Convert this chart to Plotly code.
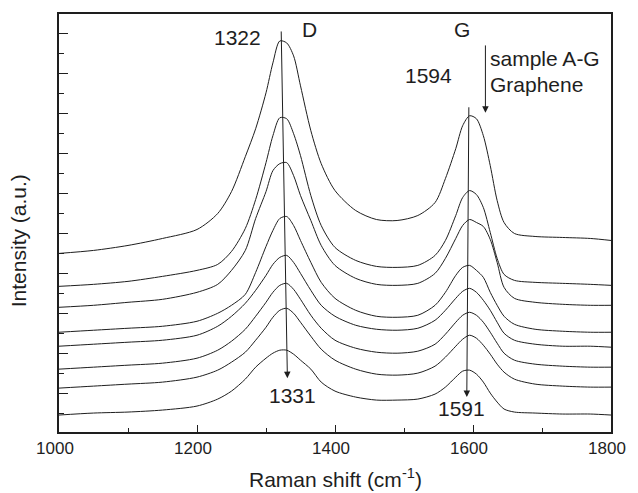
import plotly.graph_objects as go

raman_shift = [1000, 1050, 1100, 1150, 1200, 1230, 1250, 1270, 1285, 1300, 1310, 1320, 1330,
               1340, 1350, 1365, 1380, 1400, 1430, 1460, 1490, 1520, 1545, 1560, 1575, 1585,
               1595, 1605, 1615, 1625, 1635, 1645, 1660, 1690, 1730, 1770, 1800]

curve_1 = [160, 163, 168, 175, 184, 200, 222, 257, 285, 321, 351, 373, 371, 358, 328, 283, 250,
           223, 203, 194, 193, 198, 211, 235, 265, 288, 298, 295, 278, 248, 213, 191, 180, 177,
           176, 175, 173]
curve_2 = [127, 129, 132, 137, 143, 149, 162, 185, 214, 251, 278, 296, 295, 280, 258, 218, 188,
           166, 153, 147, 146, 148, 158, 173, 198, 216, 223, 219, 206, 181, 155, 139, 133, 131,
           130, 129, 128]
curve_3 = [106, 108, 111, 114, 121, 129, 143, 163, 195, 222, 243, 250, 251, 238, 218, 193, 168,
           148, 135, 129, 128, 130, 140, 155, 175, 188, 194, 191, 187, 174, 151, 126, 115, 111,
           109, 108, 108]
curve_4 = [81, 83, 85, 87, 92, 100, 108, 119, 141, 167, 183, 195, 197, 188, 173, 151, 131, 115,
           103, 97, 96, 98, 108, 121, 138, 146, 148, 143, 136, 121, 108, 97, 89, 84, 82, 81, 81]
curve_5 = [67, 69, 71, 73, 78, 87, 97, 110, 123, 138, 149, 156, 158, 151, 140, 123, 108, 97, 88,
           84, 83, 85, 93, 103, 115, 122, 125, 121, 113, 103, 91, 80, 73, 69, 67, 67, 66]
curve_6 = [44, 46, 48, 50, 55, 63, 72, 84, 97, 111, 121, 128, 130, 124, 114, 98, 85, 73, 65, 61,
           60, 62, 69, 79, 91, 98, 101, 98, 91, 81, 70, 60, 53, 49, 47, 46, 46]
curve_7 = [25, 27, 29, 31, 36, 43, 51, 61, 73, 86, 96, 103, 105, 100, 91, 77, 64, 53, 44, 39, 38,
           40, 47, 56, 67, 74, 78, 75, 68, 59, 49, 41, 34, 29, 27, 26, 26]
curve_8 = [-2, 0, 1, 3, 7, 14, 22, 34, 46, 55, 60, 63, 63, 59, 53, 44, 31, 22, 16, 13, 13, 14, 19,
           26, 36, 42, 43, 39, 31, 20, 11, 4, 1, 0, -1, -1, -2]

curves = [curve_1, curve_2, curve_3, curve_4, curve_5, curve_6, curve_7, curve_8]

x_ticks = [1000, 1200, 1400, 1600, 1800]

FONT = "Liberation Sans, Arial, sans-serif"
INK = "#1e1e1e"

fig = go.Figure()
for c in curves:
    fig.add_trace(go.Scatter(x=raman_shift, y=c, mode="lines",
                             line=dict(color=INK, width=1, shape="spline", smoothing=0.8),
                             showlegend=False, hoverinfo="skip"))

ann = []
txt = dict(font=dict(family=FONT, size=21, color=INK), showarrow=False)
ann.append(dict(x=1258, y=376, text="1322", **txt))
ann.append(dict(x=1363, y=384, text="D", **txt))
ann.append(dict(x=1584, y=384, text="G", **txt))
ann.append(dict(x=1535, y=338, text="1594", **txt))
ann.append(dict(x=1622, y=355, text="sample A-G", xanchor="left", **txt))
ann.append(dict(x=1622, y=329, text="Graphene", xanchor="left", **txt))
ann.append(dict(x=1338, y=18, text="1331", **txt))
ann.append(dict(x=1584, y=5, text="1591", **txt))

arr = dict(showarrow=True, arrowhead=2, arrowsize=1.3, arrowwidth=1, arrowcolor=INK,
           axref="x", ayref="y", text="")
ann.append(dict(x=1331, y=35, ax=1322, ay=384, **arr))
ann.append(dict(x=1591, y=16, ax=1594, ay=308, **arr))
ann.append(dict(x=1618, y=301, ax=1618, ay=370, **arr))

ann.append(dict(xref="paper", yref="paper", x=0.5, y=-0.11, yanchor="middle",
                text="Raman shift (cm<sup>-1</sup>)", showarrow=False,
                font=dict(family=FONT, size=21, color=INK)))
ann.append(dict(xref="paper", yref="paper", x=-0.072, y=0.457, textangle=-90,
                xanchor="center", yanchor="middle",
                text="Intensity (a.u.)", showarrow=False,
                font=dict(family=FONT, size=21, color=INK)))

fig.update_layout(
    width=638, height=493,
    margin=dict(l=59, r=15, t=13, b=61),
    paper_bgcolor="white", plot_bgcolor="white",
    annotations=ann,
    font=dict(family=FONT, color=INK),
)
fig.update_xaxes(range=[1000, 1800], tickvals=x_ticks, ticks="inside", ticklen=7,
                 tickwidth=1.3, tickcolor=INK, showline=True, linecolor=INK, linewidth=1.6,
                 mirror=True, showgrid=False, zeroline=False,
                 tickfont=dict(family=FONT, size=17, color=INK), ticklabelshift=-4,
                 minor=dict(dtick=100, tick0=1000, ticks="inside", ticklen=4, tickwidth=1.2,
                            tickcolor=INK, showgrid=False))
fig.update_yaxes(range=[-19, 400], tick0=20, dtick=40, ticks="inside", ticklen=9,
                 tickwidth=1.3, tickcolor=INK, showticklabels=False, showline=True,
                 linecolor=INK, linewidth=1.6, mirror=True, showgrid=False, zeroline=False,
                 minor=dict(dtick=20, tick0=0, ticks="inside", ticklen=5, tickwidth=1.2,
                            tickcolor=INK, showgrid=False))

fig.write_html("out.html", config={"displayModeBar": False},
               post_script="document.body.style.margin='0';document.body.style.overflow='hidden';")
